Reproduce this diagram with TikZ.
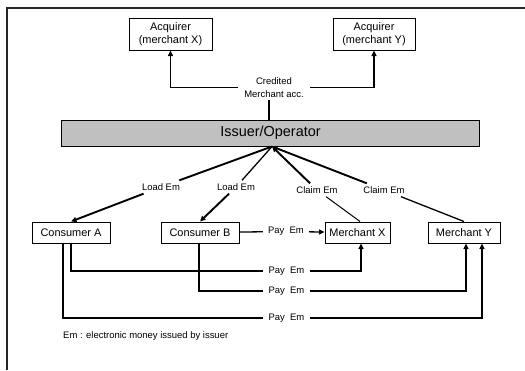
\documentclass[tikz,border=0pt]{standalone}
\usepackage{fontspec}
\setmainfont{Liberation Sans}
\usetikzlibrary{arrows.meta}
\definecolor{barfill}{RGB}{192,192,192}

\begin{document}
\begin{tikzpicture}[x=1bp,y=-1bp,
  box/.style={draw, line width=1bp, inner sep=0pt, align=center,
    font=\fontsize{11}{13}\selectfont},
  lbl/.style={inner xsep=5bp, inner ysep=3bp, align=center,
    font=\fontsize{9.5}{12.5}\selectfont},
  heavy/.style={line width=1.9bp},
  medium/.style={line width=1.3bp},
  light/.style={line width=1bp},
  tip/.style={-{Triangle[length=5.5bp,width=5bp]}}
]
\useasboundingbox (0,0) rectangle (525,370);

% frame edges
\draw[line width=1.3bp, black!85] (7,370) -- (7,8) -- (525,8);

% acquirers
\node[box, minimum width=83bp, minimum height=32bp] (acqX) at (170.5,34) {Acquirer\\(merchant X)};
\node[box, minimum width=82bp, minimum height=32bp] (acqY) at (374,34) {Acquirer\\(merchant Y)};

% issuer bar
\node[draw, line width=1bp, fill=barfill, minimum width=417bp, minimum height=26bp,
  inner sep=0pt, font=\fontsize{14.5}{16}\selectfont] (iss) at (270.5,133) {Issuer/Operator};
\coordinate (hub) at (272,146.5);

% consumers and merchants
\node[box, minimum width=78bp, minimum height=21bp] (conA) at (71,232.5) {Consumer A};
\node[box, minimum width=78bp, minimum height=21bp] (conB) at (200,232.5) {Consumer B};
\node[box, minimum width=65bp, minimum height=21bp] (merX) at (357.5,232.5) {Merchant X};
\node[box, minimum width=72bp, minimum height=21bp] (merY) at (464,232.5) {Merchant Y};

% crediting merchant accounts
\node[lbl, inner xsep=6.5bp] (cred) at (274,87.5) {Credited\\Merchant acc.};
\coordinate (credfoot) at (269,0);
\draw[heavy] (iss.north -| credfoot) -- (cred.south -| credfoot);
\draw[heavy, tip] (cred) -| (acqX);
\draw[heavy, tip] (cred) -| (acqY);

% loading and claiming
\node[lbl] (load1) at (161,187) {Load Em};
\node[lbl] (load2) at (236,187) {Load Em};
\node[lbl] (claim1) at (317,190) {Claim Em};
\node[lbl] (claim2) at (384,190) {Claim Em};

\draw[heavy] (hub) -- (load1);
\draw[heavy, tip] (load1) -- (conA.north);
\draw[medium] (hub) -- (load2);
\draw[heavy, tip] (load2) -- (conB.north);
\draw[heavy, tip] (claim1) -- (hub);
\draw[light] ([xshift=2.5bp]merX.north) -- (claim1);
\draw[heavy, tip] (claim2) -- (hub);
\draw[medium] (merY.north) -- (claim2);

% payments
\node[lbl] (pay0) at (286,231.5) {Pay\ \ Em};
\draw[medium] (conB) -- (pay0);
\draw[medium, tip] (pay0) -- (merX);

\node[lbl] (pay1) at (286.5,271) {Pay\ \ Em};
\node[lbl] (pay2) at (286.5,291) {Pay\ \ Em};
\node[lbl] (pay3) at (286.5,318) {Pay\ \ Em};

\draw[medium] (conA.south) |- (pay1);
\draw[medium, tip] (pay1) -| ([xshift=3.5bp]merX.south);
\draw[medium] ([xshift=-1bp]conB.south) |- (pay2);
\draw[medium, tip] (pay2) -| ([xshift=2bp]merY.south);
\draw[medium] ([xshift=-8bp]conA.south) |- (pay3);
\draw[medium, tip] (pay3) -| ([xshift=18bp]merY.south);

% legend
\node[anchor=west, inner sep=0pt, font=\fontsize{9.5}{11}\selectfont] (note) at (63,336)
  {Em : electronic money issued by issuer};
\end{tikzpicture}
\end{document}
